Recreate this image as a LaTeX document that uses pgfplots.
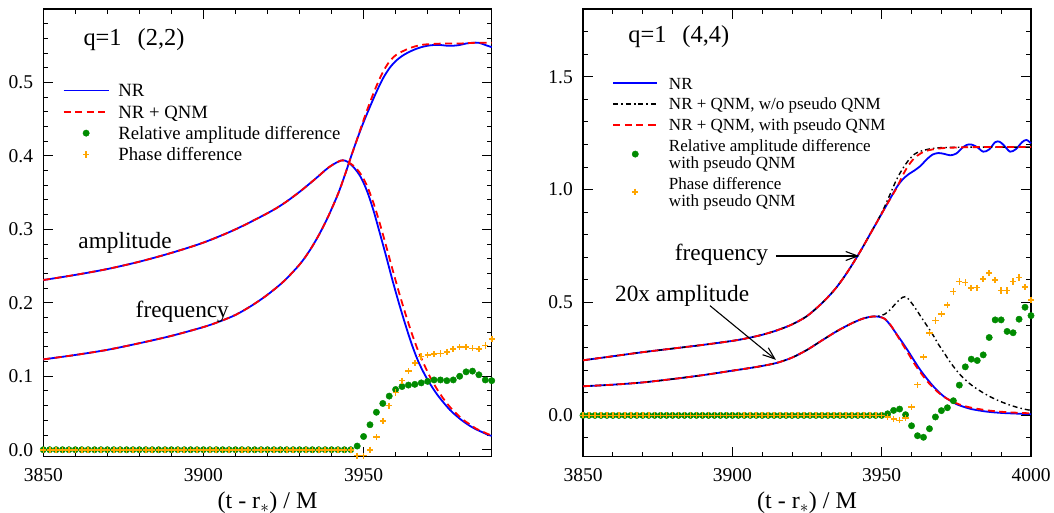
\documentclass[border=0pt]{standalone}
\usepackage{fontspec}
\setmainfont{Liberation Serif}
\usepackage{pgfplots}
\pgfplotsset{compat=1.18}
\usetikzlibrary{arrows.meta}
\definecolor{nrblue}{RGB}{0,0,255}
\definecolor{qred}{RGB}{255,0,0}
\definecolor{dgreen}{RGB}{0,139,0}
\definecolor{gorange}{RGB}{255,165,0}
\pgfplotsset{
  myaxis/.style={
    scale only axis, anchor=south west, clip=false,
    axis line style={line width=1.2pt},
    tick align=inside, tick pos=both,
    major tick length=10pt, minor tick length=5pt,
    tick style={black, line width=1pt},
    /pgf/number format/assume math mode=true,
    xticklabel={\fontsize{19.5}{22}\selectfont\pgfmathprintnumber[1000 sep={}]{\tick}},
    yticklabel={\fontsize{19.5}{22}\selectfont\pgfmathprintnumber[fixed,fixed zerofill,precision=1]{\tick}},
    xticklabel style={inner sep=0pt, anchor=north, yshift=-11.6pt},
    yticklabel style={inner sep=0pt, anchor=east, xshift=-10pt},
    every axis x label/.style={at={(axis description cs:0.5,0)}, anchor=base, yshift=-52pt, font=\fontsize{24}{28}\selectfont},
    legend cell align=left,
  },
  nrline/.style={nrblue, line width=1.8pt, smooth},
  qline/.style={qred, line width=1.8pt, smooth, dash pattern=on 7pt off 4.5pt},
  kline/.style={black, line width=1.4pt, smooth, dash pattern=on 5pt off 3pt on 1.5pt off 3pt},
  gdots/.style={only marks, mark=*, mark size=3.2pt, color=dgreen, mark options={fill=dgreen, draw=dgreen}},
  oplus/.style={only marks, mark=+, mark size=3.1pt, color=gorange, mark options={draw=gorange, line width=1.6pt}},
}
\begin{document}
\begin{tikzpicture}
\useasboundingbox (0,0) rectangle (1054pt,512pt);
% ---------------- left panel ----------------
\begin{axis}[myaxis, at={(43.3pt,55.3pt)}, width=448.4pt, height=447.7pt,
  xmin=3850, xmax=3990, ymin=-0.0095, ymax=0.6,
  xtick={3850,3900,3950}, minor xtick={3850,3860,...,3990},
  ytick={0,0.1,0.2,0.3,0.4,0.5}, minor ytick={0,0.02,...,0.6},
  xlabel={(t - r$_{*}$) / M},
  legend image code/.code={\draw[mark repeat=2,mark phase=2,#1] plot coordinates {(0pt,0pt)(22.4pt,0pt)(44.8pt,0pt)};},
  legend style={at={(axis cs:3856.1,0.5026)}, anchor=north west, draw=none, fill=none, inner sep=0pt, outer sep=0pt, row sep=1.3pt, column sep=9pt, font=\fontsize{18.7}{21}\selectfont, nodes={inner sep=0pt, text height=16.3pt, text depth=3.7pt}},
]
\addplot[nrline] coordinates {(3850,0.231)(3860,0.238)(3870,0.246)(3880,0.256)(3890,0.268)(3900,0.282)(3910,0.300)(3920,0.322)(3925,0.335)(3930,0.351)(3935,0.369)(3939,0.384)(3942,0.392)(3943.5,0.394)(3945,0.392)(3947,0.384)(3949,0.372)(3951,0.353)(3953,0.327)(3955,0.296)(3957,0.264)(3959,0.231)(3961,0.200)(3963,0.171)(3965,0.144)(3967,0.121)(3969,0.103)(3971,0.088)(3973,0.075)(3975,0.064)(3977,0.054)(3979,0.046)(3981,0.039)(3983,0.033)(3985,0.028)(3987,0.024)(3989,0.020)(3990,0.019)};
\addlegendentry{NR}
\addplot[nrline, forget plot] coordinates {(3850,0.123)(3860,0.129)(3870,0.136)(3880,0.145)(3890,0.155)(3900,0.167)(3905,0.1745)(3910,0.1835)(3915,0.196)(3920,0.211)(3925,0.229)(3930,0.252)(3933,0.270)(3936,0.292)(3939,0.318)(3942,0.348)(3944,0.372)(3946,0.398)(3948,0.423)(3950,0.446)(3952,0.467)(3954,0.487)(3956,0.505)(3958,0.519)(3960,0.529)(3962,0.536)(3964,0.541)(3966,0.545)(3968,0.548)(3970,0.550)(3972,0.551)(3974,0.551)(3976,0.550)(3978,0.550)(3980,0.551)(3982,0.553)(3984,0.554)(3986,0.554)(3988,0.551)(3990,0.548)};
\addplot[qline] coordinates {(3850,0.231)(3860,0.238)(3870,0.246)(3880,0.256)(3890,0.268)(3900,0.282)(3910,0.300)(3920,0.322)(3925,0.335)(3930,0.351)(3935,0.369)(3939,0.384)(3942,0.392)(3943.5,0.394)(3945,0.392)(3947,0.386)(3949,0.376)(3951,0.360)(3953,0.337)(3955,0.309)(3957,0.278)(3959,0.246)(3961,0.215)(3963,0.186)(3965,0.159)(3967,0.135)(3969,0.115)(3971,0.097)(3973,0.082)(3975,0.069)(3977,0.058)(3979,0.049)(3981,0.041)(3983,0.035)(3985,0.029)(3987,0.025)(3989,0.021)(3990,0.020)};
\addlegendentry{NR + QNM}
\addplot[qline, forget plot] coordinates {(3850,0.123)(3860,0.129)(3870,0.136)(3880,0.145)(3890,0.155)(3900,0.167)(3905,0.1745)(3910,0.1835)(3915,0.196)(3920,0.211)(3925,0.229)(3930,0.252)(3933,0.270)(3936,0.292)(3939,0.318)(3942,0.348)(3944,0.372)(3946,0.398)(3948,0.423)(3950,0.449)(3952,0.473)(3954,0.495)(3956,0.514)(3958,0.528)(3960,0.537)(3962,0.542)(3964,0.546)(3966,0.549)(3968,0.551)(3970,0.552)(3975,0.553)(3980,0.553)(3985,0.554)(3990,0.554)};
\addplot[black, line width=1.2pt, forget plot] coordinates {(3850,0)(3853,0)};
\addplot[gdots] coordinates {(3850,0)(3852,0)(3854,0)(3856,0)(3858,0)(3860,0)(3862,0)(3864,0)(3866,0)(3868,0)(3870,0)(3872,0)(3874,0)(3876,0)(3878,0)(3880,0)(3882,0)(3884,0)(3886,0)(3888,0)(3890,0)(3892,0)(3894,0)(3896,0)(3898,0)(3900,0)(3902,0)(3904,0)(3906,0)(3908,0)(3910,0)(3912,0)(3914,0)(3916,0)(3918,0)(3920,0)(3922,0)(3924,0)(3926,0)(3928,0)(3930,0)(3932,0)(3934,0)(3936,0)(3938,0)(3940,0)(3942,0)(3944,0)(3946,0)(3948,0.005)(3950,0.018)(3952,0.034)(3954,0.051)(3956,0.063)(3958,0.073)(3960,0.082)(3962,0.086)(3964,0.088)(3966,0.089)(3968,0.091)(3970,0.093)(3972,0.095)(3974,0.095)(3976,0.094)(3978,0.095)(3980,0.100)(3982,0.106)(3984,0.107)(3986,0.102)(3988,0.095)(3990,0.094)};
\addlegendentry{Relative amplitude difference}
\addplot[oplus] coordinates {(3850,0)(3852,0)(3854,0)(3856,0)(3858,0)(3860,0)(3862,0)(3864,0)(3866,0)(3868,0)(3870,0)(3872,0)(3874,0)(3876,0)(3878,0)(3880,0)(3882,0)(3884,0)(3886,0)(3888,0)(3890,0)(3892,0)(3894,0)(3896,0)(3898,0)(3900,0)(3902,0)(3904,0)(3906,0)(3908,0)(3910,0)(3912,0)(3914,0)(3916,0)(3918,0)(3920,0)(3922,0)(3924,0)(3926,0)(3928,0)(3930,0)(3932,0)(3934,0)(3936,0)(3938,0)(3940,0)(3942,0)(3944,0)(3946,0)(3948,-0.008)(3950,-0.008)(3952,0.000)(3954,0.017)(3956,0.039)(3958,0.060)(3960,0.078)(3962,0.094)(3964,0.107)(3966,0.118)(3968,0.127)(3970,0.129)(3972,0.130)(3974,0.131)(3976,0.133)(3978,0.137)(3980,0.140)(3982,0.140)(3984,0.138)(3986,0.137)(3988,0.142)(3990,0.151)};
\addlegendentry{Phase difference}
\node[anchor=base west, inner sep=0pt, font=\fontsize{24.4}{28}\selectfont] at (axis cs:3862.5,0.5506) {q=1\hspace{16pt}(2,2)};
\node[anchor=base west, inner sep=0pt, font=\fontsize{23.3}{28}\selectfont] at (axis cs:3860.9,0.2737) {amplitude};
\node[anchor=base west, inner sep=0pt, font=\fontsize{23.3}{28}\selectfont] at (axis cs:3878.8,0.180) {frequency};
\end{axis}
% ---------------- right panel ----------------
\begin{axis}[myaxis, at={(583pt,55.3pt)}, width=448pt, height=447.7pt,
  xmin=3850, xmax=4000, ymin=-0.183, ymax=1.8,
  xtick={3850,3900,3950,4000}, minor xtick={3850,3860,...,4000},
  ytick={0,0.5,1,1.5}, minor ytick={-0.1,0,...,1.8},
  xlabel={(t - r$_{*}$) / M},
  legend image code/.code={\draw[mark repeat=2,mark phase=2,#1] plot coordinates {(0pt,0pt)(21.8pt,0pt)(43.6pt,0pt)};},
  legend style={at={(axis cs:3859.9,1.515)}, anchor=north west, draw=none, fill=none, inner sep=0pt, outer sep=0pt, row sep=1.5pt, column sep=11pt, font=\fontsize{17}{16.8}\selectfont, nodes={inner sep=0pt, text depth=, align=left}},
]
\addplot[nrline] coordinates {(3850,0.244)(3860,0.262)(3870,0.280)(3880,0.296)(3890,0.312)(3900,0.330)(3905,0.342)(3910,0.357)(3915,0.377)(3920,0.403)(3925,0.440)(3930,0.497)(3934,0.553)(3937,0.605)(3940,0.665)(3943,0.730)(3946,0.800)(3949,0.870)(3952,0.940)(3955,1.010)(3957,1.045)(3959,1.068)(3961,1.085)(3963,1.105)(3965,1.133)(3967,1.155)(3969,1.162)(3971,1.158)(3973,1.152)(3975,1.160)(3977,1.185)(3978.5,1.198)(3980,1.200)(3982,1.188)(3984,1.168)(3986,1.178)(3988,1.210)(3989.5,1.212)(3991,1.195)(3993,1.168)(3995,1.180)(3997,1.210)(3998.5,1.220)(4000,1.205)};
\addlegendentry{\rule[-3.5pt]{0pt}{19.3pt}NR}
\addplot[nrline, forget plot] coordinates {(3850,0.129)(3860,0.136)(3870,0.146)(3880,0.161)(3890,0.178)(3900,0.198)(3905,0.208)(3910,0.219)(3915,0.233)(3920,0.256)(3925,0.290)(3930,0.332)(3935,0.373)(3940,0.408)(3944,0.430)(3947,0.438)(3949,0.437)(3951,0.428)(3953,0.398)(3955,0.360)(3957,0.322)(3959,0.282)(3961,0.240)(3963,0.200)(3965,0.165)(3967,0.133)(3969,0.105)(3971,0.082)(3973,0.065)(3975,0.050)(3977,0.040)(3980,0.028)(3985,0.017)(3990,0.011)(3995,0.008)(4000,0.005)};
\addplot[kline] coordinates {(3850,0.244)(3860,0.262)(3870,0.280)(3880,0.296)(3890,0.312)(3900,0.330)(3905,0.342)(3910,0.357)(3915,0.377)(3920,0.403)(3925,0.440)(3930,0.497)(3934,0.553)(3937,0.605)(3940,0.665)(3943,0.730)(3946,0.800)(3949,0.872)(3951,0.925)(3953,0.985)(3955,1.045)(3957,1.092)(3959,1.130)(3961,1.157)(3963,1.170)(3966,1.180)(3970,1.186)(3980,1.188)(4000,1.188)};
\addlegendentry{\rule[-3.5pt]{0pt}{19.3pt}NR + QNM, w/o pseudo QNM}
\addplot[kline, forget plot] coordinates {(3850,0.129)(3860,0.136)(3870,0.146)(3880,0.161)(3890,0.178)(3900,0.198)(3905,0.208)(3910,0.219)(3915,0.233)(3920,0.256)(3925,0.290)(3930,0.332)(3935,0.373)(3940,0.408)(3944,0.430)(3947,0.438)(3949,0.440)(3951,0.448)(3953,0.470)(3955,0.500)(3957,0.523)(3958,0.526)(3959,0.515)(3961,0.480)(3963,0.440)(3965,0.400)(3967,0.360)(3969,0.315)(3971,0.275)(3973,0.235)(3975,0.200)(3977,0.170)(3980,0.135)(3983,0.108)(3986,0.085)(3989,0.066)(3992,0.050)(3995,0.037)(3998,0.027)(4000,0.022)};
\addplot[qline] coordinates {(3850,0.244)(3860,0.262)(3870,0.280)(3880,0.296)(3890,0.312)(3900,0.330)(3905,0.342)(3910,0.357)(3915,0.377)(3920,0.403)(3925,0.440)(3930,0.497)(3934,0.553)(3937,0.605)(3940,0.665)(3943,0.730)(3946,0.800)(3949,0.870)(3952,0.940)(3955,1.007)(3957,1.062)(3959,1.108)(3961,1.140)(3963,1.160)(3965,1.172)(3968,1.180)(3972,1.185)(3980,1.188)(3990,1.189)(4000,1.189)};
\addlegendentry{\rule[-3.5pt]{0pt}{19.3pt}NR + QNM, with pseudo QNM}
\addplot[qline, forget plot] coordinates {(3850,0.129)(3860,0.136)(3870,0.146)(3880,0.161)(3890,0.178)(3900,0.198)(3905,0.208)(3910,0.219)(3915,0.233)(3920,0.256)(3925,0.290)(3930,0.332)(3935,0.373)(3940,0.408)(3944,0.430)(3947,0.438)(3949,0.437)(3951,0.428)(3953,0.400)(3955,0.358)(3957,0.315)(3959,0.272)(3961,0.228)(3963,0.190)(3965,0.155)(3967,0.126)(3969,0.101)(3971,0.081)(3973,0.066)(3975,0.054)(3977,0.044)(3980,0.034)(3985,0.023)(3990,0.016)(3995,0.012)(4000,0.009)};
\addplot[black, line width=1.2pt, forget plot] coordinates {(3850,0)(3854,0)};
\addplot[black, line width=1.2pt, forget plot] coordinates {(3996.5,0)(4000,0)};
\addplot[gdots] coordinates {(3850,0)(3852,0)(3854,0)(3856,0)(3858,0)(3860,0)(3862,0)(3864,0)(3866,0)(3868,0)(3870,0)(3872,0)(3874,0)(3876,0)(3878,0)(3880,0)(3882,0)(3884,0)(3886,0)(3888,0)(3890,0)(3892,0)(3894,0)(3896,0)(3898,0)(3900,0)(3902,0)(3904,0)(3906,0)(3908,0)(3910,0)(3912,0)(3914,0)(3916,0)(3918,0)(3920,0)(3922,0)(3924,0)(3926,0)(3928,0)(3930,0)(3932,0)(3934,0)(3936,0)(3938,0)(3940,0)(3942,0)(3944,0)(3946,0)(3948,0)(3950,0)(3952,0.007)(3954,0.022)(3956,0.028)(3958,0.003)(3960,-0.046)(3962,-0.090)(3964,-0.097)(3966,-0.059)(3968,-0.007)(3970,0.021)(3972,0.034)(3974,0.065)(3976,0.134)(3978,0.215)(3980,0.249)(3982,0.243)(3984,0.268)(3986,0.345)(3988,0.423)(3990,0.423)(3992,0.372)(3994,0.366)(3996,0.426)(3998,0.479)(4000,0.442)};
\addlegendentry{\rule{0pt}{15.8pt}Relative amplitude difference\\with pseudo QNM\rule[-3.5pt]{0pt}{3.5pt}}
\addplot[oplus] coordinates {(3850,0)(3852,0)(3854,0)(3856,0)(3858,0)(3860,0)(3862,0)(3864,0)(3866,0)(3868,0)(3870,0)(3872,0)(3874,0)(3876,0)(3878,0)(3880,0)(3882,0)(3884,0)(3886,0)(3888,0)(3890,0)(3892,0)(3894,0)(3896,0)(3898,0)(3900,0)(3902,0)(3904,0)(3906,0)(3908,0)(3910,0)(3912,0)(3914,0)(3916,0)(3918,0)(3920,0)(3922,0)(3924,0)(3926,0)(3928,0)(3930,0)(3932,0)(3934,0)(3936,0)(3938,0)(3940,0)(3942,0)(3944,0)(3946,0)(3948,0)(3950,0)(3952,-0.007)(3954,-0.015)(3956,-0.022)(3958,-0.012)(3960,0.037)(3962,0.136)(3964,0.258)(3966,0.364)(3968,0.420)(3970,0.448)(3972,0.490)(3974,0.549)(3976,0.593)(3978,0.589)(3980,0.564)(3982,0.566)(3984,0.603)(3986,0.630)(3988,0.600)(3990,0.553)(3992,0.553)(3994,0.593)(3996,0.611)(3998,0.568)(4000,0.512)};
\addlegendentry{\rule{0pt}{15.8pt}Phase difference\\with pseudo QNM\rule[-3.5pt]{0pt}{3.5pt}}
\node[anchor=base west, inner sep=0pt, font=\fontsize{24.4}{28}\selectfont] at (axis cs:3865.1,1.652) {q=1\hspace{16pt}(4,4)};
\node[anchor=base west, inner sep=0pt, font=\fontsize{23.3}{28}\selectfont] at (axis cs:3880.7,0.687) {frequency};
\node[anchor=base west, inner sep=0pt, font=\fontsize{23.3}{28}\selectfont] at (axis cs:3860.7,0.504) {20x amplitude};
\draw[line width=1.1pt, -{Straight Barb[length=12pt,width=9pt]}] (axis cs:3914.6,0.706) -- (axis cs:3942.5,0.706);
\draw[line width=1.1pt, -{Straight Barb[length=12pt,width=9pt]}] (axis cs:3892.5,0.486) -- (axis cs:3914.6,0.246);
\end{axis}
\end{tikzpicture}
\end{document}
